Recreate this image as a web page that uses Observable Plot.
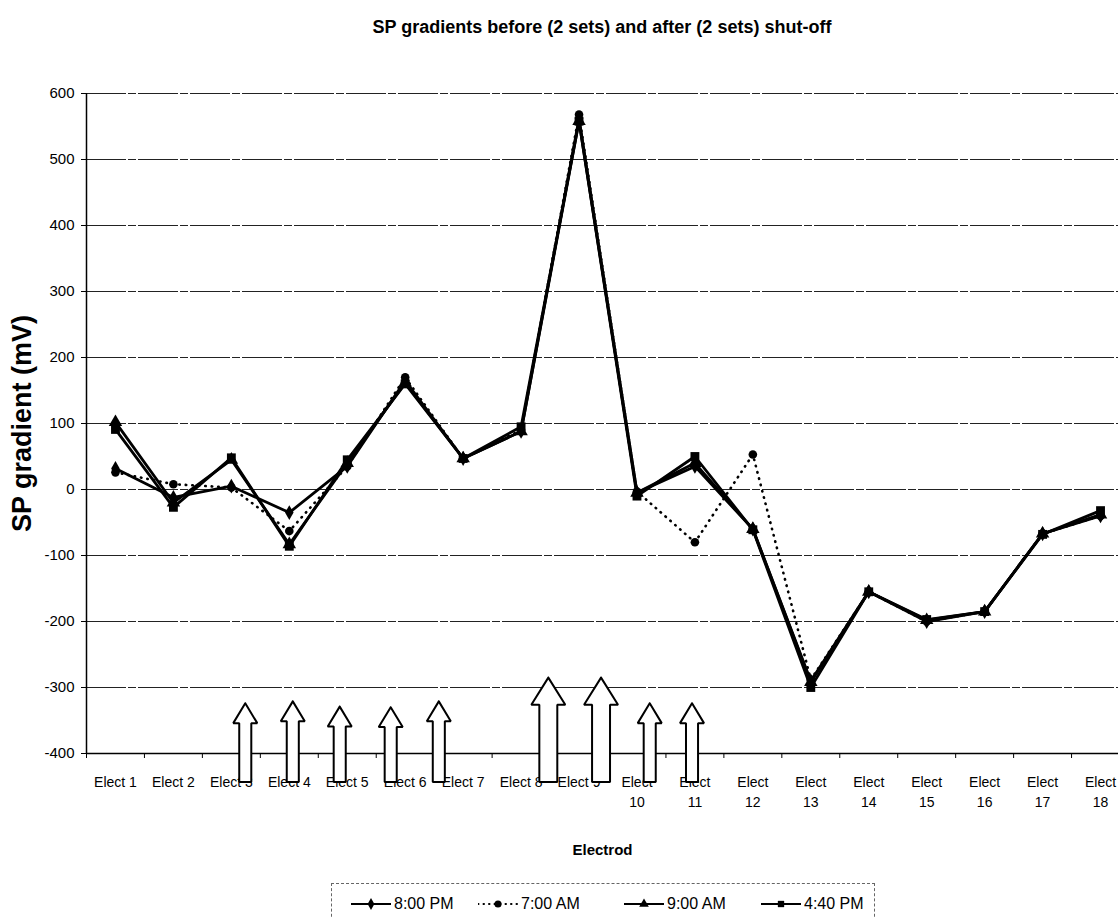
<!DOCTYPE html>
<html>
<head>
<meta charset="utf-8">
<script src="https://cdn.jsdelivr.net/npm/d3@7"></script>
<script src="https://cdn.jsdelivr.net/npm/@observablehq/plot@0.6"></script>
<style>
  body { margin: 0; background: white; }
  #wrap { position: relative; width: 1118px; height: 917px; overflow: hidden; background: white;
          font-family: "Liberation Sans", Arial, sans-serif; color: black; }
  #title { position: absolute; left: 86px; top: 16px; width: 1032px; text-align: center;
           font-weight: bold; font-size: 18px; line-height: 22px; }
  #chart { position: absolute; left: 0; top: 60px; }
  #legend { position: absolute; left: 331px; top: 883px; width: 544px; height: 44px;
            border: 1px dashed #666; box-sizing: border-box; }
  .entry { position: absolute; top: 10px; height: 20px; display: flex; align-items: center; }
  .entry span { font-size: 16px; margin-left: 3px; }
</style>
</head>
<body>
<div id="wrap">
  <div id="title">SP gradients before (2 sets) and after (2 sets) shut-off</div>
  <div id="chart"></div>
  <div id="legend"></div>
</div>
<script>
// Electrode tick labels (positions 1..18 on the x scale)
const electrodes = [
  "Elect 1", "Elect 2", "Elect 3", "Elect 4", "Elect 5", "Elect 6", "Elect 7", "Elect 8", "Elect 9",
  "Elect\n10", "Elect\n11", "Elect\n12", "Elect\n13", "Elect\n14", "Elect\n15", "Elect\n16", "Elect\n17", "Elect\n18"
];

// SP gradients (mV) per electrode, one array per measurement time
const pm800 = [32, -12, 5, -35, 35, 165, 47, 88, 562, -5, 35, -60, -290, -155, -200, -185, -67, -40];
const am700 = [26, 8, 3, -63, 35, 170, 47, 90, 568, -3, -80, 53, -288, -155, -200, -185, -67, -40];
const am900 = [102, -20, 45, -83, 40, 162, 47, 88, 558, -5, 40, -60, -292, -155, -198, -185, -67, -38];
const pm440 = [91, -27, 48, -86, 45, 160, 47, 95, 558, -10, 50, -61, -300, -155, -197, -185, -68, -32];

const seriesNames = ["8:00 PM", "7:00 AM", "9:00 AM", "4:40 PM"];

// y axis ticks
const yTicks = [-400, -300, -200, -100, 0, 100, 200, 300, 400, 500, 600];

// Upward arrows marking positions along the line (x in electrode units, tip in mV)
const arrowAt  = [3.24, 4.06, 4.87, 5.75, 6.58, 8.47, 9.38, 10.22, 10.95];
const arrowTip = [-324, -321, -329, -330, -321, -285, -285, -324, -324];
const arrowBig = [false, false, false, false, false, true, true, false, false];

// ---- build tables ----
const seriesValues = [pm800, am700, am900, pm440];
const series = seriesValues.map((vals, s) =>
  vals.map((v, i) => ({electrode: i + 1, value: v, time: seriesNames[s]})));

// arrow outlines in data units (x: electrode units, y: mV)
const arrowBase = -443;
const arrowPolys = arrowAt.flatMap((x, k) => {
  const tip = arrowTip[k];
  const big = arrowBig[k];
  const hw = big ? 0.293 : 0.207;   // half head width
  const sw = big ? 0.155 : 0.104;   // half shaft width
  const hh = big ? 41 : 30;         // head height (mV)
  const pts = [
    [x, tip], [x + hw, tip - hh], [x + sw, tip - hh], [x + sw, arrowBase],
    [x - sw, arrowBase], [x - sw, tip - hh], [x - hw, tip - hh], [x, tip]
  ];
  return pts.map(([px, py]) => ({id: k, x: px, y: py}));
});

const bounds = d3.range(0, 19).map(i => i + 0.5);
const positions = d3.range(1, 19);

const solid = {stroke: "black", strokeWidth: 2.8};
const dotted = {stroke: "black", strokeWidth: 2.6, strokeDasharray: "0.5,6", strokeLinecap: "round"};

const chart = Plot.plot({
  width: 1118,
  height: 815,
  marginLeft: 86,
  marginRight: 0,
  marginTop: 33,
  marginBottom: 122,
  style: {fontFamily: "'Liberation Sans', Arial, sans-serif", background: "white", color: "black"},
  x: {domain: [0.5, 18.5], range: [86, 1129]},
  y: {domain: [-400, 600]},
  marks: [
    Plot.ruleY(yTicks, {stroke: "#222", strokeWidth: 1, strokeDasharray: "40,2,8,2"}),
    Plot.ruleY([-400], {stroke: "black", strokeWidth: 1.5}),
    Plot.ruleX([0.5], {stroke: "black", strokeWidth: 1.5}),
    Plot.axisY({ticks: yTicks, tickSize: 5, tickPadding: 7, fontSize: 15, label: null, tickFormat: d => String(d)}),
    Plot.axisX({ticks: bounds, tickSize: 5, tickFormat: () => "", label: null}),
    Plot.axisX({ticks: positions, tickSize: 0, tickPadding: 19, fontSize: 14, lineHeight: 1.45,
                tickFormat: i => electrodes[i - 1], label: null}),
    Plot.text(["SP gradient (mV)"], {frameAnchor: "left", textAnchor: "middle", lineAnchor: "middle",
      rotate: -90, dx: -64, fontWeight: "bold", fontSize: 27}),
    Plot.text(["Electrod"], {frameAnchor: "bottom", textAnchor: "middle", lineAnchor: "middle",
      dy: 97, fontWeight: "bold", fontSize: 15}),

    // 8:00 PM — solid, diamonds
    Plot.line(series[0], {x: "electrode", y: "value", ...solid}),
    Plot.dot(series[0], {x: "electrode", y: "value", symbol: "diamond", r: 4.5, fill: "black"}),
    // 7:00 AM — dotted, circles
    Plot.line(series[1], {x: "electrode", y: "value", ...dotted}),
    Plot.dot(series[1], {x: "electrode", y: "value", symbol: "circle", r: 4.3, fill: "black"}),
    // 9:00 AM — solid, triangles
    Plot.line(series[2], {x: "electrode", y: "value", ...solid}),
    Plot.dot(series[2], {x: "electrode", y: "value", symbol: "triangle", r: 5, fill: "black"}),
    // 4:40 PM — solid, squares
    Plot.line(series[3], {x: "electrode", y: "value", ...solid}),
    Plot.dot(series[3], {x: "electrode", y: "value", symbol: "square", r: 5, fill: "black"}),

    // hollow block arrows
    Plot.line(arrowPolys, {x: "x", y: "y", z: "id", fill: "white", stroke: "black", strokeWidth: 2, strokeLinejoin: "miter"})
  ]
});
document.getElementById("chart").append(chart);

// ---- legend ----
const legendSymbols = ["diamond", "circle", "triangle", "square"];
const legendDashed = [false, true, false, false];
const legendLeft = [19, 146, 292, 429];
const legend = d3.select("#legend");
seriesNames.forEach((name, i) => {
  const entry = legend.append("div").attr("class", "entry").style("left", legendLeft[i] + "px");
  const svg = entry.append("svg").attr("width", 40).attr("height", 20);
  svg.append("line").attr("x1", 0).attr("x2", 40).attr("y1", 10).attr("y2", 10)
    .attr("stroke", "black").attr("stroke-width", 2)
    .attr("stroke-dasharray", legendDashed[i] ? "0.5,5" : null)
    .attr("stroke-linecap", legendDashed[i] ? "round" : null);
  const sym = {diamond: d3.symbolDiamond, circle: d3.symbolCircle, triangle: d3.symbolTriangle, square: d3.symbolSquare}[legendSymbols[i]];
  svg.append("path").attr("transform", "translate(20,10)")
    .attr("d", d3.symbol(sym, 40)()).attr("fill", "black");
  entry.append("span").text(name);
});
</script>
</body>
</html>
